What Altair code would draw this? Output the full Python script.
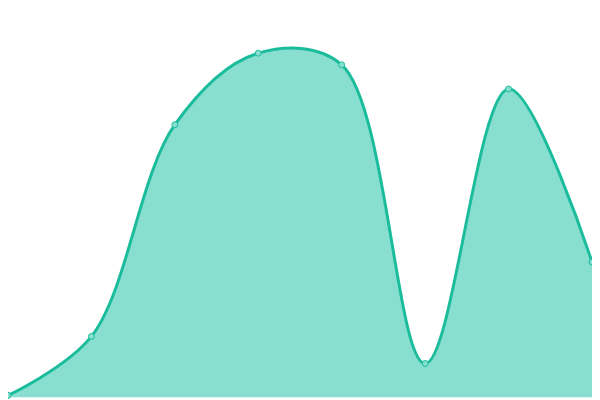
import altair as alt
import pandas as pd

x_index = [0, 1, 2, 3, 4, 5, 6, 7]
values = [2, 63, 282, 356, 344, 35, 319, 140]

df = pd.DataFrame({"x": x_index, "v": values})

LINE = "#1abc9c"
FILL = "#88dfcf"

xs = alt.X("x:Q", scale=alt.Scale(domain=[0, 7], nice=False, zero=False), axis=None)
ys = alt.Y("v:Q", scale=alt.Scale(domain=[0, 400], nice=False), axis=None)

base = alt.Chart(df).encode(x=xs, y=ys)

area = base.mark_area(interpolate="catmull-rom", tension=0.5, color=FILL, opacity=1)
line = base.mark_line(interpolate="catmull-rom", tension=0.5, color=LINE, strokeWidth=3)
pts = base.mark_point(filled=True, shape="circle", size=36, fill=FILL, stroke=LINE,
                      strokeWidth=1, opacity=1)

chart = (area + line + pts).properties(
    width=592, height=392, padding=0, autosize=alt.AutoSizeParams(type="none")
).configure_view(stroke=None)

chart.save("out.html", embed_options={"renderer": "svg", "actions": False})
